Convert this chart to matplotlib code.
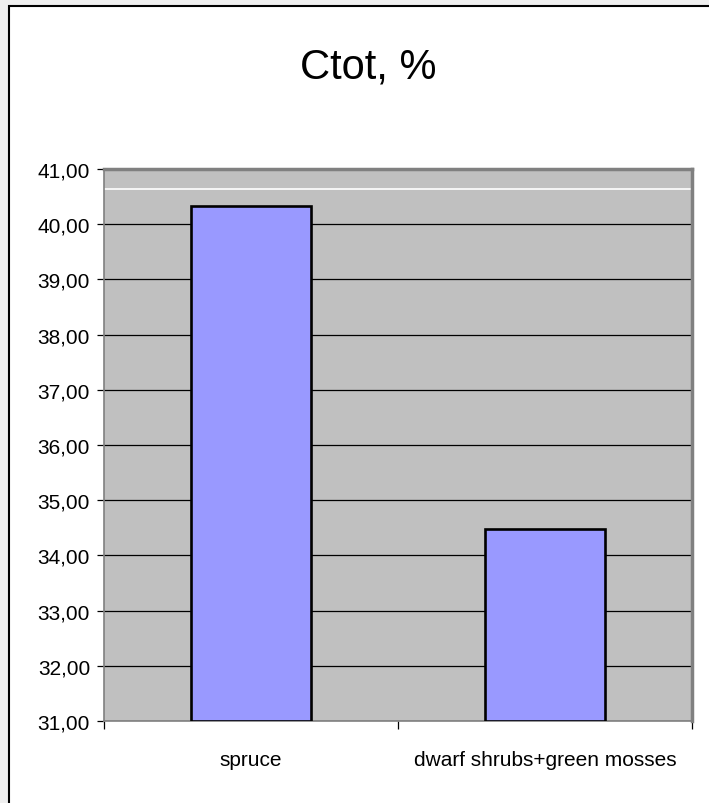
import numpy as np
from matplotlib import pyplot as plt
from matplotlib.patches import Rectangle
from matplotlib.ticker import FixedLocator, FuncFormatter

# Ctot per vegetation group
groups = ["spruce", "dwarf shrubs+green mosses"]
ctot = [40.33, 34.48]
white_line = 40.64

plt.rcParams['font.family'] = ['Liberation Sans', 'DejaVu Sans']

fig = plt.figure(figsize=(7.09, 8.04), dpi=100, facecolor="#efefef")
W, H = 709, 804
# white chart area with a black frame
fig.patches.append(Rectangle((9 / W, -0.1), 1.2, (H - 7) / H + 0.1,
                             transform=fig.transFigure, facecolor="white",
                             edgecolor="black", linewidth=1.5, zorder=-5))

ax = fig.add_axes([104 / W, (H - 722) / H, 588 / W, 552 / H])
ax.set_facecolor("#c0c0c0")

x = np.arange(len(groups))
ax.set_axisbelow(True)
ax.yaxis.grid(True, color="black", linewidth=0.9)
ax.axhline(white_line, color="white", linewidth=1.2, zorder=1)
ax.bar(x, np.array(ctot) - 31, bottom=31, width=0.41, color="#9999ff",
       edgecolor="black", linewidth=1.9, zorder=3)

ax.set_xlim(-0.5, 1.5)
ax.set_ylim(31, 41)
ax.yaxis.set_major_locator(FixedLocator(np.arange(31, 42, 1)))
ax.yaxis.set_major_formatter(FuncFormatter(lambda v, p: f"{v:.2f}".replace(".", ",")))
ax.tick_params(axis="y", labelsize=15, length=5, width=0.9, pad=5)

ax.set_xticks(x)
ax.set_xticklabels(groups)
ax.tick_params(axis="x", which="major", length=0, labelsize=15, pad=21)
ax.set_xticks([-0.5, 0.5, 1.5], minor=True)
ax.tick_params(axis="x", which="minor", length=6, width=0.9)

for side in ["top", "right"]:
    ax.spines[side].set_color("#808080")
    ax.spines[side].set_linewidth(2.5)
for side in ["left", "bottom"]:
    ax.spines[side].set_color("#808080")
    ax.spines[side].set_linewidth(1.2)

fig.text(368 / W, 1 - 68 / H, "Ctot, %", fontsize=30, ha="center", va="center")

fig.savefig("out.png", dpi=100, facecolor=fig.get_facecolor())
